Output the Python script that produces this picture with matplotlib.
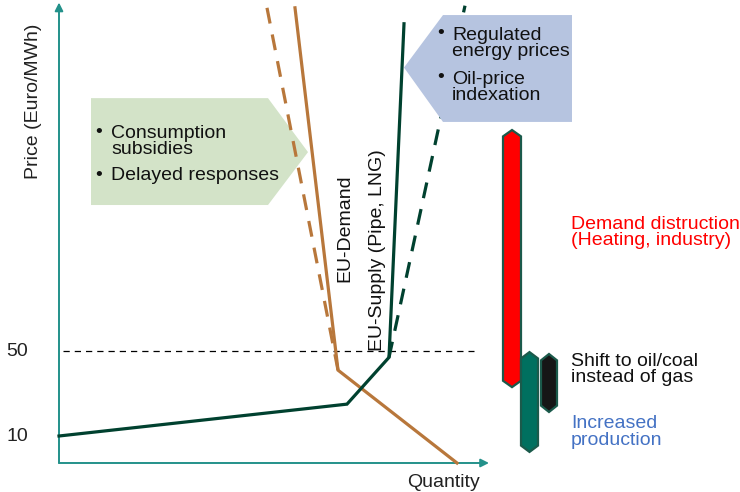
import numpy as np
from matplotlib import pyplot as plt
from matplotlib.patches import Polygon

plt.rcParams['font.family'] = ['Liberation Sans', 'DejaVu Sans']

# schematic curves: quantity (x) and price in Euro/MWh (y)
supply_q = [0, 72, 82.5, 86.25]
supply_p = [10, 25, 47, 204]
supply_alt_q = [82.5, 101.5]
supply_alt_p = [47, 212.5]

demand_q = [59, 69.75, 99.5]
demand_p = [211.5, 41, -2.7]
demand_alt_q = [52, 69.75]
demand_alt_p = [211.5, 41]

ref_price = 50
price_ticks = [10, 50]

# response bars: left, right, top price, bottom price
bar_names = ['demand destruction', 'increased production', 'fuel switch']
bar_left = [111, 115.5, 120.5]
bar_right = [115.5, 119.75, 124.5]
bar_top = [154, 49.5, 48.6]
bar_bottom = [33, 2.5, 21.3]
bar_fill = ['#ff0000', '#00705f', '#161616']

# callout shapes
green_box = [(8, 169), (52.25, 169), (62.25, 143.6), (52.25, 118.7), (8, 118.7)]
blue_box = [(86.25, 183.4), (96, 208.1), (128.25, 208.1), (128.25, 157.8), (96, 157.8)]

teal = '#23918a'
dark = '#00412f'
brown = '#b8773b'
fs = 14
ls = 0.93

fig = plt.figure(figsize=(7.4, 4.92), dpi=100)
ax = fig.add_axes([0, 0, 1, 1])
ax.set_xlim(-14.75, 170.25)
ax.set_ylim(-16.35, 215.18)
ax.axis('off')

# axes with arrows
ax.annotate('', xy=(0, 214), xytext=(0, -2.7),
            arrowprops=dict(arrowstyle='-|>', color=teal, lw=1.4, mutation_scale=12, shrinkA=0, shrinkB=0))
ax.annotate('', xy=(107.5, -2.7), xytext=(0, -2.7),
            arrowprops=dict(arrowstyle='-|>', color=teal, lw=1.4, mutation_scale=12, shrinkA=0, shrinkB=0))

ax.plot([1, 103.75], [ref_price, ref_price], color='k', lw=0.9, ls=(0, (5, 4)), zorder=2)

ax.add_patch(Polygon(green_box, closed=True, facecolor='#d3e3c8', edgecolor='none', zorder=1))
ax.plot(demand_alt_q, demand_alt_p, color=brown, lw=2.3, ls=(0, (5, 3.5)), zorder=3)
ax.plot(demand_q, demand_p, color=brown, lw=2.3, zorder=3, solid_joinstyle='miter')

ax.plot(supply_alt_q, supply_alt_p, color=dark, lw=2.3, ls=(0, (5, 3.5)), zorder=3)
ax.add_patch(Polygon(blue_box, closed=True, facecolor='#b6c4e0', edgecolor='none', zorder=4))
ax.plot(supply_q, supply_p, color=dark, lw=2.3, zorder=5, solid_joinstyle='miter')

tip = 3
for x0, x1, top, bot, col in zip(bar_left, bar_right, bar_top, bar_bottom, bar_fill):
    xc = (x0 + x1) / 2
    pts = [(x0, top - tip), (xc, top), (x1, top - tip), (x1, bot + tip), (xc, bot), (x0, bot + tip)]
    ax.add_patch(Polygon(pts, closed=True, facecolor=col, edgecolor='#1b5a4b', lw=1.6, zorder=6))

# labels
ax.text(-6.25, 167.6, 'Price (Euro/MWh)', rotation=90, ha='center', va='center', fontsize=fs, color='#222222')
for p in price_ticks:
    ax.text(-10.5, p, str(p), ha='center', va='center', fontsize=fs, color='#222222')
ax.text(96.25, -12.1, 'Quantity', ha='center', va='center', fontsize=fs, color='#222222')
ax.text(71.5, 107.9, 'EU-Demand', rotation=90, ha='center', va='center', fontsize=fs, color='#111111')
ax.text(79.75, 97.5, 'EU-Supply (Pipe, LNG)', rotation=90, ha='center', va='center', fontsize=fs, color='#111111')

ax.text(10, 152.8, '•', ha='center', va='center', fontsize=fs, color='#111111', zorder=7)
ax.text(13, 148.6, 'Consumption\nsubsidies', ha='left', va='center', fontsize=fs, linespacing=ls, color='#111111', zorder=7)
ax.text(10, 132.8, '•', ha='center', va='center', fontsize=fs, color='#111111', zorder=7)
ax.text(13, 132.8, 'Delayed responses', ha='left', va='center', fontsize=fs, color='#111111', zorder=7)

ax.text(95.5, 199.2, '•', ha='center', va='center', fontsize=fs, color='#111111', zorder=7)
ax.text(98.25, 194.7, 'Regulated\nenergy prices', ha='left', va='center', fontsize=fs, linespacing=ls, color='#111111', zorder=7)
ax.text(95.5, 178.5, '•', ha='center', va='center', fontsize=fs, color='#111111', zorder=7)
ax.text(98.25, 174, 'Oil-price\nindexation', ha='left', va='center', fontsize=fs, linespacing=ls, color='#111111', zorder=7)

ax.text(128, 105.8, 'Demand distruction\n(Heating, industry)', ha='left', va='center', fontsize=fs, linespacing=ls, color='#ff0000')
ax.text(128, 41.5, 'Shift to oil/coal\ninstead of gas', ha='left', va='center', fontsize=fs, linespacing=ls, color='#111111')
ax.text(128, 11.9, 'Increased\nproduction', ha='left', va='center', fontsize=fs, linespacing=ls, color='#4472c4')

fig.savefig('out.png', dpi=100)
